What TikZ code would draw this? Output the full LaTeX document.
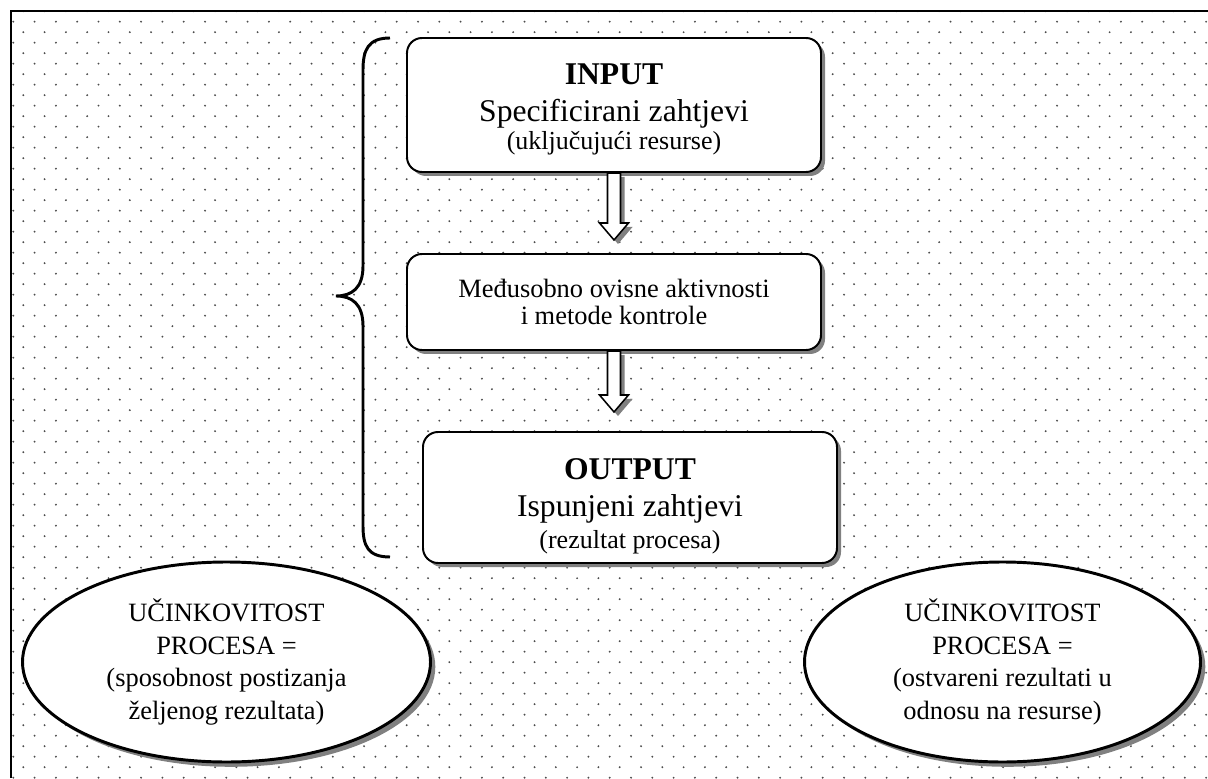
\documentclass[tikz,border=0pt]{standalone}
\usepackage{fontspec}
\setmainfont{Liberation Serif}
\usetikzlibrary{calc,shadows,shapes.geometric}

\begin{document}
\begin{tikzpicture}[
    box/.style={draw, line width=1.4pt, rounded corners=0.375cm, fill=white, align=center, inner sep=0pt,
      minimum width=10.35cm, drop shadow={shadow xshift=0.1cm, shadow yshift=-0.1cm, fill=black!50, opacity=1}},
    oval/.style={ellipse, draw, line width=2.1pt, fill=white, align=center, inner sep=0pt, minimum height=5cm,
      font=\fontsize{18.8pt}{23.1pt}\selectfont,
      drop shadow={shadow xshift=0.12cm, shadow yshift=-0.12cm, fill=black!50, opacity=1}},
    blockarr/.style={line width=1.1pt, fill=white,
      drop shadow={shadow xshift=0.1cm, shadow yshift=-0.1cm, fill=black!50, opacity=1},
      to path={let \p1=(\tikztostart), \p2=(\tikztotarget) in
        (\x1-0.1625cm,\y1) -- (\x1-0.1625cm,\y2+0.425cm) -- (\x1-0.3625cm,\y2+0.425cm) -- (\x1,\y2)
        -- (\x1+0.3625cm,\y2+0.425cm) -- (\x1+0.1625cm,\y2+0.425cm) -- (\x1+0.1625cm,\y1) -- cycle}}
  ]
    \useasboundingbox (0,0) rectangle (30.2,19.45);
    \fill[white] (0,0) rectangle (30.2,19.45);
    \begin{scope}
      \clip (0.275,0) rectangle (30.2,19.175);
      \foreach \r in {0,...,73}{
        \pgfmathsetmacro\dy{19.17-0.2625*\r}
        \pgfmathsetmacro\dx{0.5825-0.25*mod(\r,2)}
        \foreach \c in {0,...,56}
          \fill[black!70] (\dx+0.5325*\c,\dy) circle (0.75pt);
      }
    \end{scope}
    \draw[line width=1.4pt] (0.275,0) -- (0.275,19.175) -- (30.2,19.175);

    \node[box, minimum height=3.35cm, font=\fontsize{22.5pt}{26.3pt}\selectfont] (inbox) at (15.35,16.825)
      {\rule{0pt}{21pt}\textbf{INPUT}\\Specificirani zahtjevi\\[-6.4pt]{\fontsize{18.5pt}{19.9pt}\selectfont (uključujući resurse)}};
    \node[box, minimum height=2.4cm, font=\fontsize{18.8pt}{19.5pt}\selectfont] (midbox) at (15.35,11.9)
      {Međusobno ovisne aktivnosti\\i metode kontrole};
    \node[box, minimum height=3.275cm, font=\fontsize{22.5pt}{26.3pt}\selectfont] (outbox) at (15.75,7.0125)
      {\rule{0pt}{27pt}\textbf{OUTPUT}\\Ispunjeni zahtjevi\\[-3.5pt]{\fontsize{18.5pt}{22.8pt}\selectfont (rezultat procesa)}};
    \coordinate (tip1) at (15.35,13.45);
    \coordinate (tip2) at (15.35,9.15);
    \draw[blockarr] (inbox.south) to (tip1);
    \draw[blockarr] (midbox.south) to (tip2);

    \draw[line width=2.1pt] (9.75,18.5) .. controls (9.2,18.5) and (9.075,18.2) .. (9.075,17.7)
      -- (9.075,12.8) .. controls (9.075,12.25) and (8.8,12.05) .. (8.4,12.05)
      .. controls (8.8,12.05) and (9.075,11.85) .. (9.075,11.3)
      -- (9.075,6.3) .. controls (9.075,5.8) and (9.2,5.525) .. (9.75,5.525);

    \node[oval, minimum width=10.2cm] (effl) at (5.6625,2.9)
      {UČINKOVITOST\\PROCESA =\\(sposobnost postizanja\\željenog rezultata)};
    \node[oval, minimum width=9.9cm] (effr) at (25.0625,2.9)
      {UČINKOVITOST\\PROCESA =\\(ostvareni rezultati u\\odnosu na resurse)};
  \end{tikzpicture}
\end{document}
